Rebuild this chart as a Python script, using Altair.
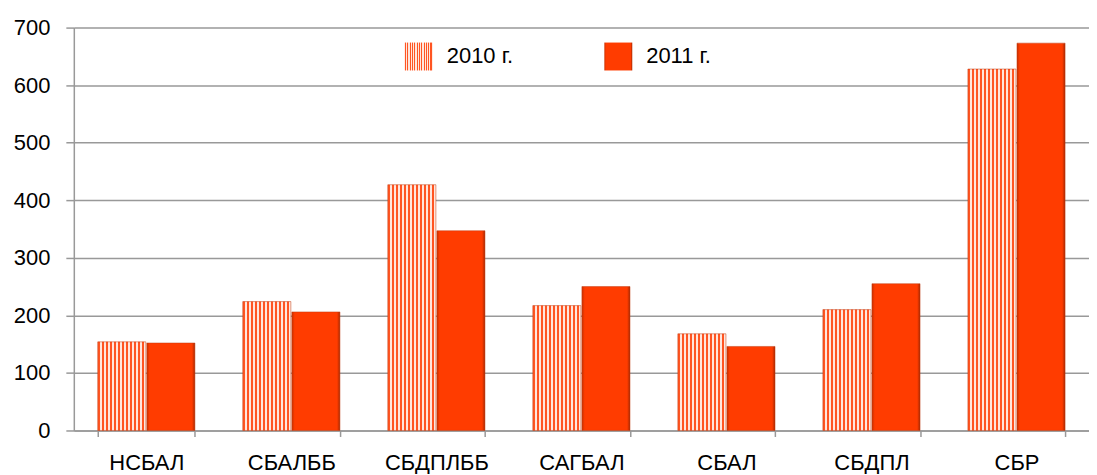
import altair as alt
import pandas as pd

categories = ["НСБАЛ", "СБАЛББ", "СБДПЛББ", "САГБАЛ", "СБАЛ", "СБДПЛ", "СБР"]
values_2010 = [154, 224, 427, 217, 168, 210, 628]
values_2011 = [152, 206, 347, 250, 146, 255, 673]
series = ["2010 г.", "2011 г."]

rows = []
for c, a, b in zip(categories, values_2010, values_2011):
    rows.append({"cat": c, "year": series[0], "value": a})
    rows.append({"cat": c, "year": series[1], "value": b})
df = pd.DataFrame(rows)

# striped fill as a hard-stop linear gradient
n_stripes = 12
stops = []
for i in range(n_stripes):
    o0 = i / n_stripes
    o1 = (i + 0.5) / n_stripes
    o2 = (i + 1) / n_stripes
    stops.append("{offset:%.4f,color:'#ff5522'}" % o0)
    stops.append("{offset:%.4f,color:'#ff5522'}" % o1)
    stops.append("{offset:%.4f,color:'#ffe6dc'}" % o1)
    stops.append("{offset:%.4f,color:'#ffe6dc'}" % o2)
stripe_expr = "{gradient:'linear',x1:0,y1:0,x2:1,y2:0,stops:[" + ",".join(stops) + "]}"
solid_expr = ("{gradient:'linear',x1:0,y1:0,x2:1,y2:0,stops:["
              "{offset:0,color:'#c83000'},{offset:0.06,color:'#ff3c00'},"
              "{offset:0.94,color:'#ff3c00'},{offset:1,color:'#a82800'}]}")

font = "Liberation Sans, Arial"

chart = alt.Chart(df).mark_bar(stroke="#c03a10", strokeWidth=0.5).encode(
    x=alt.X("cat:N", sort=categories, title=None,
            scale=alt.Scale(paddingInner=0.33, paddingOuter=0.165),
            axis=alt.Axis(labelAngle=0, tickBand="extent", labelFont=font,
                          labelFontSize=22, labelColor="#000", labelPadding=16,
                          tickColor="#999", tickSize=6, tickWidth=1.5,
                          domainColor="#999", domainWidth=1.5)),
    xOffset=alt.XOffset("year:N", scale=alt.Scale(paddingInner=0.02)),
    y=alt.Y("value:Q", title=None,
            scale=alt.Scale(domain=[0, 700]),
            axis=alt.Axis(values=[0, 100, 200, 300, 400, 500, 600, 700],
                          labelFont=font, labelFontSize=22, labelColor="#000",
                          labelPadding=16, tickSize=8, tickColor="#999",
                          tickWidth=1.5, domainColor="#999", domainWidth=1.5,
                          gridColor="#999", gridWidth=1.5)),
    fill=alt.Fill("year:N", title=None,
                  scale=alt.Scale(domain=series,
                                  range=[{"expr": stripe_expr}, {"expr": solid_expr}]),
                  legend=alt.Legend(orient="none", legendX=332, legendY=15,
                                    direction="horizontal", symbolType="square",
                                    symbolSize=784, symbolStrokeWidth=0,
                                    labelFont=font, labelFontSize=22,
                                    labelColor="#000", labelOffset=14,
                                    columnPadding=91)),
).properties(
    width=1018, height=404,
    padding={"left": 5, "top": 8, "right": 0, "bottom": 0},
).configure_view(stroke=None).configure_axis(gridOpacity=1)

chart.save("out.html", embed_options={"renderer": "svg", "actions": False})
